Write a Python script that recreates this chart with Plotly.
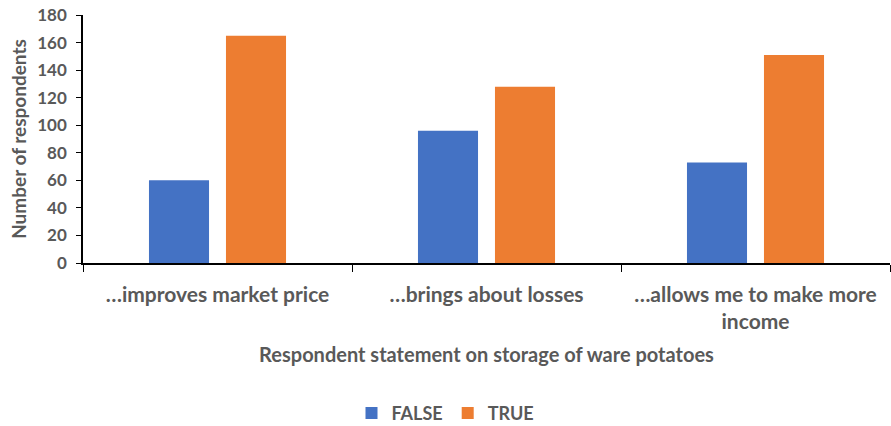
import plotly.graph_objects as go

categories = ["…improves market price", "…brings about losses", "…allows me to make more<br>income"]
false_values = [60, 96, 73]
true_values = [165, 128, 151]
y_ticks = [0, 20, 40, 60, 80, 100, 120, 140, 160, 180]

FONT = "Lato, 'Open Sans', sans-serif"
GREY = "#595959"

fig = go.Figure()
fig.add_trace(go.Bar(name="FALSE", x=categories, y=false_values, marker_color="#4472C4", marker_line_width=0))
fig.add_trace(go.Bar(name="TRUE", x=categories, y=true_values, marker_color="#ED7D31", marker_line_width=0))

fig.update_layout(
    width=891, height=426,
    margin=dict(l=83, r=1, t=15, b=163),
    paper_bgcolor="white", plot_bgcolor="white",
    barmode="group", bargap=0.4275, bargroupgap=0.22,
    font=dict(family=FONT, color=GREY, size=16),
    legend=dict(orientation="h", xref="container", yref="container", x=0.5, xanchor="center",
                y=0.03, yanchor="middle", font=dict(size=18, color=GREY, weight="bold"),
                itemwidth=30, traceorder="normal"),
    showlegend=True,
)
fig.update_xaxes(
    showline=True, linecolor="black", linewidth=1.5,
    ticks="outside", ticklen=7, tickcolor="black", tickson="boundaries",
    tickfont=dict(size=21, color=GREY, weight="bold"),
    ticklabelstandoff=12,
    title=dict(text="Respondent statement on storage of ware potatoes",
               font=dict(size=20, color=GREY, weight="bold"), standoff=16),
    automargin=False,
)
fig.update_yaxes(
    range=[0, 180], tickvals=y_ticks, showgrid=False, zeroline=False,
    showline=True, linecolor="black", linewidth=1.5,
    ticks="outside", ticklen=5, tickcolor="black",
    tickfont=dict(size=17, color=GREY, weight="bold"),
    ticklabelstandoff=6,
    title=dict(text="Number of respondents", font=dict(size=19, color=GREY, weight="bold"), standoff=6),
    automargin=False,
)
fig.write_html("out.html", config={"displayModeBar": False},
               post_script="document.body.style.margin='0';")
